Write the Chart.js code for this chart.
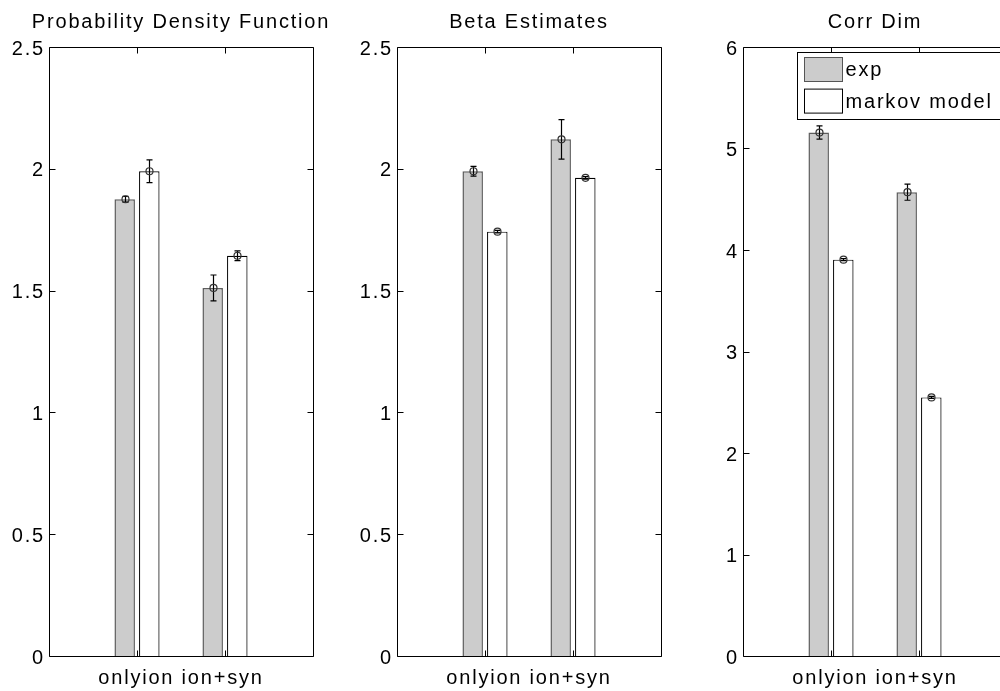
<!DOCTYPE html>
<html>
<head>
<meta charset="utf-8">
<script src="https://cdn.jsdelivr.net/npm/chart.js@4.4.1/dist/chart.umd.min.js"></script>
<style>
  html, body { margin: 0; padding: 0; background: #fff; }
  #fig { position: relative; width: 1000px; height: 691px; overflow: hidden; background: #fff; }
  #fig canvas { position: absolute; top: 0; }
</style>
</head>
<body>
<div id="fig">
  <canvas id="pdf" width="362" height="691" style="left:0px"></canvas>
  <canvas id="beta" width="362" height="691" style="left:348px"></canvas>
  <canvas id="corr" width="362" height="691" style="left:694px"></canvas>
</div>
<script>
// Categories and series
const categories = ['onlyion', 'ion+syn'];
const seriesNames = ['exp', 'markov model'];

// Probability Density Function
const pdfExp = [1.875, 1.511];
const pdfExpErr = [0.012, 0.053];
const pdfMarkov = [1.99, 1.643];
const pdfMarkovErr = [0.047, 0.02];
const pdfTicks = [0, 0.5, 1, 1.5, 2, 2.5];

// Beta Estimates
const betaExp = [1.99, 2.121];
const betaExpErr = [0.02, 0.081];
const betaMarkov = [1.742, 1.963];
const betaMarkovErr = [0.005, 0.005];
const betaTicks = [0, 0.5, 1, 1.5, 2, 2.5];

// Corr Dim
const corrExp = [5.157, 4.57];
const corrExpErr = [0.065, 0.08];
const corrMarkov = [3.905, 2.548];
const corrMarkovErr = [0.01, 0.01];
const corrTicks = [0, 1, 2, 3, 4, 5, 6];

const FONT = { family: "'Liberation Sans', Arial, Helvetica, sans-serif", size: 20, weight: 'normal' };
const SPACING = '1.8px';

// x slots: an empty slot on each side of the two groups
const xLabels = ['', ...categories, ''];
const pad = arr => [null, ...arr, null];

// wider glyph spacing for every text drawn on the canvas
const spacingPlugin = {
  id: 'spacing',
  beforeUpdate(chart) { chart.ctx.letterSpacing = SPACING; },
  beforeDraw(chart) { chart.ctx.letterSpacing = SPACING; }
};

// error bars with a circle marker at each bar top
const errorBarPlugin = {
  id: 'errorBars',
  afterDatasetsDraw(chart) {
    const ctx = chart.ctx;
    const y = chart.scales.y;
    ctx.save();
    chart.data.datasets.forEach((ds, d) => {
      const meta = chart.getDatasetMeta(d);
      meta.data.forEach((bar, i) => {
        const v = ds.data[i];
        if (v === null || v === undefined) return;
        const e = ds.errors[i];
        const x = Math.round(bar.x) + 0.5;
        const yT = y.getPixelForValue(v + e);
        const yB = y.getPixelForValue(v - e);
        const yC = y.getPixelForValue(v);
        ctx.strokeStyle = '#000';
        ctx.lineWidth = 1.2;
        ctx.beginPath();
        ctx.moveTo(x, yT); ctx.lineTo(x, yB);
        ctx.moveTo(x - 3, yT); ctx.lineTo(x + 3, yT);
        ctx.moveTo(x - 3, yB); ctx.lineTo(x + 3, yB);
        ctx.stroke();
        ctx.strokeStyle = '#333';
        ctx.beginPath();
        ctx.arc(x, yC, 3.5, 0, Math.PI * 2);
        ctx.stroke();
      });
    });
    ctx.restore();
  }
};

// box around the plot area with inward tick marks on all four sides
const framePlugin = {
  id: 'frame',
  afterDraw(chart) {
    const ctx = chart.ctx;
    const a = chart.chartArea;
    const xs = chart.scales.x, ys = chart.scales.y;
    const L = Math.round(a.left) + 0.5, R = Math.round(a.right) + 0.5;
    const T = Math.round(a.top) + 0.5, B = Math.round(a.bottom) + 0.5;
    const len = 6;
    ctx.save();
    ctx.strokeStyle = '#000';
    ctx.lineWidth = 1;
    ctx.beginPath();
    ctx.rect(L, T, R - L, B - T);
    ys.ticks.forEach(t => {
      const p = Math.round(ys.getPixelForValue(t.value)) + 0.5;
      ctx.moveTo(L, p); ctx.lineTo(L + len, p);
      ctx.moveTo(R, p); ctx.lineTo(R - len, p);
    });
    categories.forEach((c, i) => {
      const p = Math.round(xs.getPixelForValue(i + 1)) + 0.5;
      ctx.moveTo(p, T); ctx.lineTo(p, T + len);
      ctx.moveTo(p, B); ctx.lineTo(p, B - len);
    });
    ctx.stroke();
    ctx.restore();
  }
};

// boxed legend inside the plot area
const boxLegendPlugin = {
  id: 'boxLegend',
  afterDraw(chart, args, opts) {
    if (!opts || !opts.display) return;
    const ctx = chart.ctx;
    const a = chart.chartArea;
    const bx = Math.round(a.left + 54) + 0.5, by = Math.round(a.top + 5) + 0.5;
    const bw = 212, bh = 67;
    ctx.save();
    ctx.letterSpacing = SPACING;
    ctx.fillStyle = '#fff';
    ctx.fillRect(bx, by, bw, bh);
    ctx.strokeStyle = '#000';
    ctx.lineWidth = 1;
    ctx.strokeRect(bx, by, bw, bh);
    ctx.font = `${FONT.size}px ${FONT.family}`;
    ctx.textBaseline = 'middle';
    ctx.textAlign = 'left';
    chart.data.datasets.forEach((ds, d) => {
      const py = by + 5 + d * 31.6;
      ctx.fillStyle = ds.backgroundColor;
      ctx.fillRect(bx + 7, py, 38, 24);
      ctx.strokeStyle = d === 0 ? '#555' : ds.borderColor;
      ctx.strokeRect(bx + 7, py, 38, 24);
      ctx.fillStyle = '#000';
      ctx.fillText(ds.label, bx + 48, py + 13);
    });
    ctx.restore();
  }
};

function makePanel(id, title, expVals, expErr, mkVals, mkErr, yTicks, showLegend) {
  return new Chart(document.getElementById(id), {
    type: 'bar',
    data: {
      labels: xLabels,
      datasets: [
        {
          label: seriesNames[0],
          data: pad(expVals),
          errors: pad(expErr),
          backgroundColor: '#cccccc',
          borderColor: '#5e5e5e',
          borderWidth: 1.5
        },
        {
          label: seriesNames[1],
          data: pad(mkVals),
          errors: pad(mkErr),
          backgroundColor: '#ffffff',
          borderColor: '#000000',
          borderWidth: 1.2
        }
      ]
    },
    options: {
      responsive: false,
      animation: false,
      devicePixelRatio: 1,
      categoryPercentage: 0.559,
      barPercentage: 0.833,
      layout: { padding: 0 },
      plugins: {
        legend: { display: false },
        tooltip: { enabled: false },
        title: {
          display: true,
          text: title,
          color: '#000',
          font: FONT,
          padding: { top: 10, bottom: 13 }
        },
        boxLegend: { display: showLegend }
      },
      scales: {
        x: {
          type: 'category',
          offset: false,
          grid: { display: false, drawTicks: false },
          border: { display: false },
          ticks: { display: false },
          title: {
            display: true,
            text: categories.join(' '),
            color: '#000',
            font: FONT,
            padding: { top: 0, bottom: 1 }
          },
          afterFit(s) { s.height = 35; }
        },
        y: {
          min: yTicks[0],
          max: yTicks[yTicks.length - 1],
          grid: { display: false, drawTicks: false },
          border: { display: false },
          afterBuildTicks(s) { s.ticks = yTicks.map(v => ({ value: v })); },
          ticks: {
            color: '#000',
            font: FONT,
            padding: 4,
            labelOffset: 2,
            callback: v => String(v)
          },
          afterFit(s) { s.width = 49; }
        },
        // empty margin on the right so the plot sits centred under the title
        yRight: {
          position: 'right',
          display: true,
          grid: { display: false, drawTicks: false },
          border: { display: false },
          ticks: { display: false },
          afterFit(s) { s.width = 49; }
        }
      }
    },
    plugins: [spacingPlugin, errorBarPlugin, framePlugin, boxLegendPlugin]
  });
}

makePanel('pdf', 'Probability Density Function', pdfExp, pdfExpErr, pdfMarkov, pdfMarkovErr, pdfTicks, false);
makePanel('beta', 'Beta Estimates', betaExp, betaExpErr, betaMarkov, betaMarkovErr, betaTicks, false);
makePanel('corr', 'Corr Dim', corrExp, corrExpErr, corrMarkov, corrMarkovErr, corrTicks, true);
</script>
</body>
</html>
